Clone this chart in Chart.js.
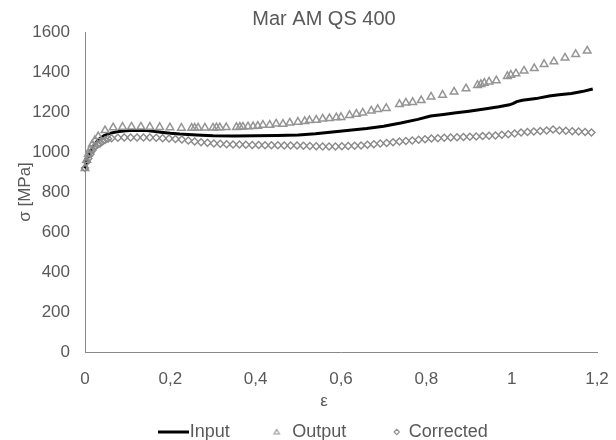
<!DOCTYPE html>
<html>
<head>
<meta charset="utf-8">
<title>Mar AM QS 400</title>
<script src="https://cdn.jsdelivr.net/npm/chart.js@4.4.1/dist/chart.umd.min.js"></script>
<style>
  html, body { margin: 0; padding: 0; background: #ffffff; }
  canvas { display: block; }
</style>
</head>
<body>
<canvas id="flowCurve" width="616" height="440"></canvas>
<script>
// True strain and flow stress [MPa] of each curve
const strainInput = [0, 0.004, 0.008, 0.013, 0.019, 0.027, 0.035, 0.045, 0.058, 0.075, 0.09, 0.105,
  0.125, 0.144, 0.165, 0.183, 0.2, 0.222, 0.261, 0.3, 0.35, 0.4, 0.45, 0.5, 0.54, 0.58, 0.62, 0.66,
  0.7, 0.74, 0.78, 0.81, 0.84, 0.87, 0.9, 0.94, 0.97, 0.995, 1.004, 1.012, 1.025, 1.057, 1.088,
  1.111, 1.14, 1.165, 1.19];
const stressInput = [918, 955, 978, 1003, 1027, 1050, 1068, 1082, 1093, 1101, 1105, 1107,
  1108, 1107, 1103, 1098, 1094, 1090, 1085, 1081, 1080, 1081, 1083, 1085, 1091, 1100, 1109, 1118,
  1129, 1145, 1163, 1180, 1188, 1196, 1204, 1216, 1226, 1236, 1243, 1252, 1259, 1267, 1280,
  1286, 1293, 1302, 1315];

const strainOutput = [0, 0.004, 0.008, 0.012, 0.017, 0.023, 0.031, 0.047, 0.066, 0.088, 0.109,
  0.131, 0.152, 0.175, 0.199, 0.226, 0.25, 0.257, 0.265, 0.281, 0.3, 0.308, 0.316, 0.331, 0.355,
  0.363, 0.37, 0.382, 0.394, 0.405, 0.417, 0.433, 0.448, 0.464, 0.48, 0.499, 0.515, 0.526, 0.542,
  0.557, 0.573, 0.589, 0.6, 0.62, 0.636, 0.651, 0.671, 0.686, 0.706, 0.737, 0.752, 0.768, 0.788,
  0.811, 0.838, 0.865, 0.893, 0.92, 0.928, 0.936, 0.947, 0.964, 0.99, 0.998, 1.01, 1.029, 1.053,
  1.076, 1.099, 1.125, 1.15, 1.177];
const stressOutput = [918, 960, 990, 1012, 1038, 1058, 1078, 1108, 1122, 1125, 1126,
  1126, 1125, 1124, 1122, 1120, 1120, 1120, 1121, 1121, 1121, 1122, 1122, 1123, 1124,
  1125, 1126, 1127, 1128, 1130, 1135, 1135, 1141, 1140, 1146, 1150, 1154, 1158, 1160,
  1166, 1168, 1172, 1174, 1184, 1190, 1196, 1206, 1214, 1219, 1239, 1246, 1249, 1258,
  1276, 1285, 1301, 1317, 1334, 1339, 1345, 1351, 1357, 1379, 1385, 1392, 1406, 1418,
  1439, 1452, 1471, 1489, 1506];

const strainCorrected = [0, 0.004, 0.008, 0.013, 0.018, 0.023, 0.029, 0.035, 0.041, 0.047, 0.054,
  0.062, 0.077, 0.092, 0.107, 0.122, 0.137, 0.152, 0.167, 0.182, 0.197, 0.212, 0.227, 0.242, 0.257,
  0.272, 0.287, 0.302, 0.317, 0.332, 0.347, 0.362, 0.377, 0.392, 0.407, 0.422, 0.437, 0.452, 0.467,
  0.482, 0.497, 0.512, 0.527, 0.542, 0.557, 0.572, 0.587, 0.602, 0.617, 0.632, 0.647, 0.662, 0.677,
  0.692, 0.707, 0.722, 0.737, 0.752, 0.767, 0.782, 0.797, 0.812, 0.827, 0.842, 0.857, 0.872, 0.887,
  0.902, 0.917, 0.932, 0.947, 0.962, 0.977, 0.992, 1.007, 1.022, 1.037, 1.052, 1.067, 1.082, 1.097,
  1.112, 1.127, 1.142, 1.157, 1.172, 1.187];
const stressCorrected = [920, 950, 968, 990, 1010, 1027, 1036, 1043, 1052, 1060, 1066,
  1069, 1071, 1072, 1073, 1073, 1073, 1072, 1071, 1069, 1067, 1065, 1062, 1058, 1053,
  1049, 1046, 1043, 1041, 1039, 1038, 1037, 1036, 1035, 1035, 1034, 1034, 1034, 1033,
  1033, 1032, 1031, 1030, 1029, 1028, 1028, 1028, 1029, 1030, 1031, 1033, 1036, 1039,
  1042, 1045, 1049, 1052, 1055, 1058, 1061, 1064, 1067, 1069, 1071, 1072, 1074, 1075,
  1076, 1078, 1080, 1081, 1083, 1086, 1089, 1093, 1097, 1100, 1102, 1105, 1108, 1112,
  1108, 1106, 1104, 1102, 1100, 1098];

// Axis tick labels (decimal comma on the strain axis)
const xTickLabels = ['0', '0,2', '0,4', '0,6', '0,8', '1', '1,2'];
const yTickLabels = ['0', '200', '400', '600', '800', '1000', '1200', '1400', '1600'];

const FONT = '"Liberation Sans", Arial, Helvetica, sans-serif';
const TEXT = '#595959';
const AXIS = '#898989';
const TRI = '#959595';
const DIA = '#8a8a8a';

function pairs(xs, ys) {
  return xs.map((x, i) => ({ x: x, y: ys[i] }));
}

// Small canvases used as legend symbols
function swatch(w, h, paint) {
  const c = document.createElement('canvas');
  c.width = w;
  c.height = h;
  paint(c.getContext('2d'));
  return c;
}
const swatchLine = swatch(70, 4, g => {
  g.fillStyle = '#000000';
  g.fillRect(39, 0.5, 31, 3);
});
const swatchTriangle = swatch(60, 10, g => {
  const cx = 50.25, cy = 5.5, r = 3.1;
  g.strokeStyle = TRI;
  g.lineWidth = 1.1;
  g.beginPath();
  g.moveTo(cx, cy - r);
  g.lineTo(cx + 0.866 * r, cy + 0.5 * r);
  g.lineTo(cx - 0.866 * r, cy + 0.5 * r);
  g.closePath();
  g.stroke();
});
const swatchDiamond = swatch(64, 10, g => {
  const cx = 55.75, cy = 5, r = 2.6;
  g.strokeStyle = DIA;
  g.lineWidth = 1.1;
  g.beginPath();
  g.moveTo(cx - r, cy);
  g.lineTo(cx, cy - r);
  g.lineTo(cx + r, cy);
  g.lineTo(cx, cy + r);
  g.closePath();
  g.stroke();
});
const legendSymbols = [swatchLine, swatchTriangle, swatchDiamond];

// Centre the title, the strain-axis title and the legend like the original layout
const alignBlocks = {
  id: 'alignBlocks',
  afterLayout(chart) {
    const t = chart.titleBlock;
    if (t) { t.left += 20.5; t.right += 20.5; }
    const l = chart.legend;
    if (l) { l.left += 4; l.right += 4; l.top += 11; l.bottom += 11; }
    const xs = chart.scales.x;
    if (xs && !xs._titleShifted) {
      const drawTitle = xs.drawTitle.bind(xs);
      xs.drawTitle = function () {
        this.ctx.save();
        this.ctx.translate(-17, 0);
        drawTitle();
        this.ctx.restore();
      };
      xs._titleShifted = true;
    }
  }
};

new Chart(document.getElementById('flowCurve'), {
  type: 'scatter',
  data: {
    datasets: [
      {
        label: 'Input',
        data: pairs(strainInput, stressInput),
        showLine: true,
        borderColor: '#000000',
        backgroundColor: '#000000',
        borderWidth: 3,
        pointRadius: 0,
        pointHoverRadius: 0,
        tension: 0,
        fill: false,
        clip: false,
        order: 3
      },
      {
        label: 'Output',
        data: pairs(strainOutput, stressOutput),
        showLine: false,
        pointStyle: 'triangle',
        pointRadius: 4.4,
        pointBorderWidth: 1.5,
        pointBorderColor: TRI,
        pointBackgroundColor: 'rgba(0,0,0,0)',
        clip: false,
        order: 2
      },
      {
        label: 'Corrected',
        data: pairs(strainCorrected, stressCorrected),
        showLine: false,
        pointStyle: 'rectRot',
        pointRadius: 3.5,
        pointBorderWidth: 1.4,
        pointBorderColor: DIA,
        pointBackgroundColor: 'rgba(0,0,0,0)',
        clip: false,
        order: 1
      }
    ]
  },
  options: {
    responsive: false,
    animation: false,
    devicePixelRatio: 1,
    events: [],
    layout: { padding: { left: 10, right: 19, top: 0, bottom: 0 } },
    plugins: {
      title: {
        display: true,
        text: 'Mar AM QS 400',
        color: TEXT,
        font: { family: FONT, size: 20, weight: 'normal' },
        padding: { top: 7, bottom: 1 }
      },
      legend: {
        position: 'bottom',
        labels: {
          usePointStyle: true,
          pointStyleWidth: 53.5,
          padding: 0,
          color: TEXT,
          font: { family: FONT, size: 18 },
          generateLabels: chart => chart.data.datasets.map((ds, i) => ({
            text: ds.label,
            datasetIndex: i,
            pointStyle: legendSymbols[i],
            fontColor: TEXT,
            fillStyle: 'rgba(0,0,0,0)',
            strokeStyle: 'rgba(0,0,0,0)',
            lineWidth: 0,
            hidden: false
          }))
        }
      },
      tooltip: { enabled: false }
    },
    scales: {
      x: {
        type: 'linear',
        min: 0,
        max: 1.2,
        grid: { display: false, drawTicks: true, tickLength: 10 },
        border: { display: true, color: AXIS, width: 1 },
        ticks: {
          stepSize: 0.2,
          padding: 7,
          autoSkip: false,
          maxRotation: 0,
          color: TEXT,
          font: { family: FONT, size: 17 },
          callback: (value, index) => xTickLabels[index]
        },
        title: {
          display: true,
          text: 'ε',
          color: TEXT,
          font: { family: FONT, size: 17 },
          padding: { top: 0, bottom: 0 }
        },
        afterFit: scale => { scale.height = 60; }
      },
      y: {
        type: 'linear',
        min: 0,
        max: 1600,
        grid: { display: false, drawTicks: false },
        border: { display: true, color: AXIS, width: 1 },
        ticks: {
          stepSize: 200,
          padding: 15,
          color: TEXT,
          font: { family: FONT, size: 17 },
          callback: (value, index) => yTickLabels[index]
        },
        title: {
          display: true,
          text: 'σ [MPa]',
          color: TEXT,
          font: { family: FONT, size: 17 },
          padding: { top: 5, bottom: 0 }
        },
        afterFit: scale => { scale.width = 75; }
      }
    }
  },
  plugins: [alignBlocks]
});
</script>
</body>
</html>
